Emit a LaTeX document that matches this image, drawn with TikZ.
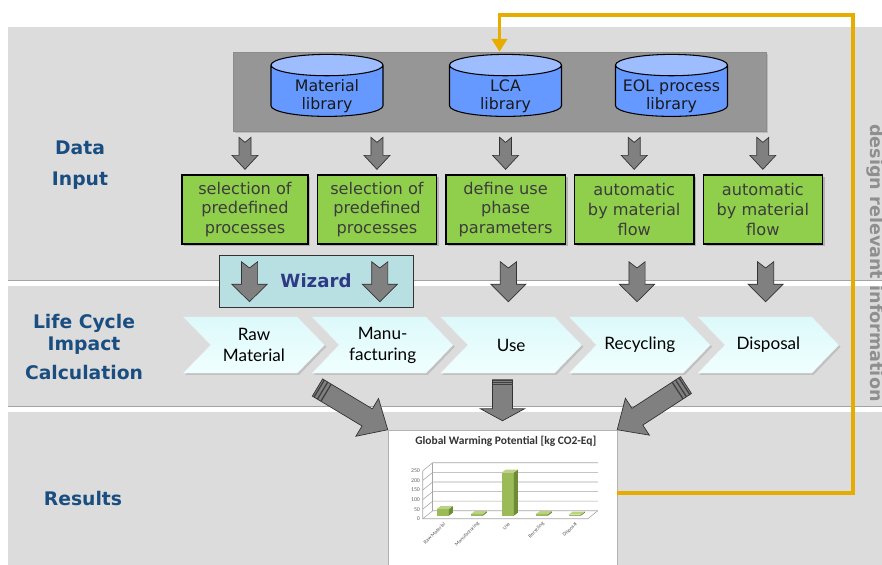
\documentclass[tikz,border=0pt]{standalone}
\usepackage{fontspec}
\setmainfont{DejaVu Sans}
\newfontfamily\chvfont{Lato}
\newfontfamily\chartfont{Carlito}
\usepackage{tikz}
\usetikzlibrary{arrows.meta}
\usetikzlibrary{positioning}
\usetikzlibrary{calc}
\usetikzlibrary{shapes.geometric}
\usetikzlibrary{shapes.symbols}
\usetikzlibrary{shadows}

\definecolor{bandgray}{HTML}{DCDCDC}
\definecolor{bandline}{HTML}{A3A3A3}
\definecolor{libsgray}{HTML}{969696}
\definecolor{libblue}{HTML}{6699FF}
\definecolor{libtop}{HTML}{9DBDFF}
\definecolor{procgreen}{HTML}{8FCF4C}
\definecolor{proctext}{HTML}{3C3C3C}
\definecolor{wizfill}{HTML}{B8DFE1}
\definecolor{wiztext}{HTML}{2E3A87}
\definecolor{lblblue}{HTML}{1A4E80}
\definecolor{fbyellow}{HTML}{E6AC00}
\definecolor{chvtop}{HTML}{DDF9FA}
\definecolor{chvbot}{HTML}{F0FFFF}
\definecolor{arrowgray}{HTML}{808080}
\definecolor{sidegray}{HTML}{8F8F8F}
\definecolor{barfront}{HTML}{9BBB59}
\definecolor{barside}{HTML}{6E8C35}
\definecolor{bartop}{HTML}{B9D383}

\tikzset{
  band/.style={fill=bandgray},
  bandln/.style={draw=bandline, line width=0.8pt},
  sec/.style={font=\fontsize{16}{19}\selectfont\bfseries, text=lblblue, align=center},
  libs/.style={fill=libsgray, draw=black!45, minimum width=15.99cm, minimum height=2.37cm,
    drop shadow={opacity=0.35, shadow xshift=1.5pt, shadow yshift=-1.5pt}},
  lib/.style={shape=cylinder, shape border rotate=90, aspect=0.22, draw=black, line width=0.9pt,
    cylinder uses custom fill, cylinder body fill=libblue, cylinder end fill=libtop,
    minimum width=3.36cm, minimum height=1.86cm, inner sep=0,
    font=\fontsize{13.5}{15.5}\selectfont},
  libtxt/.style={align=center, text=black!90, font=\fontsize{13.5}{15.5}\selectfont},
  proc/.style={draw=black, line width=1.1pt, fill=procgreen, text=proctext, align=center,
    minimum width=3.58cm, minimum height=2.07cm, inner sep=1pt,
    font=\fontsize{13.8}{16.7}\selectfont,
    drop shadow={opacity=0.45, shadow xshift=2pt, shadow yshift=-2pt}},
  wiz/.style={draw=black!80, line width=0.8pt, fill=wizfill, text=wiztext,
    minimum width=5.82cm, minimum height=1.56cm, font=\fontsize{15.5}{18}\selectfont\bfseries},
  chv/.style={shape=signal, signal from=west, signal to=east, signal pointer angle=92,
    minimum width=4.23cm, minimum height=1.68cm, inner sep=0, align=center,
    top color=chvtop, bottom color=chvbot, draw=white!85!gray, line width=0.3pt,
    font=\chvfont\fontsize{14.6}{18}\selectfont,
    drop shadow={opacity=0.3, shadow xshift=1.5pt, shadow yshift=-1.5pt}},
  chartbox/.style={draw=black!30, fill=white, minimum width=6.87cm, minimum height=4.38cm},
  fb/.style={draw=fbyellow, line width=3.2pt, line join=miter,
    -{Triangle[length=11pt, width=13pt]}},
  arrowfill/.style={fill=arrowgray, draw=black!80, line width=0.6pt, line join=miter},
  gridln/.style={draw=black!35, line width=0.5pt},
  ticklbl/.style={anchor=east, inner sep=0.5pt, text=black!60, font=\chartfont\fontsize{5}{6}\selectfont},
  catlbl/.style={anchor=east, rotate=45, inner sep=0.3pt, text=black!65, font=\chartfont\fontsize{4.5}{5}\selectfont},
  pics/dnarrow/.style={code={
    \filldraw[arrowfill] (0,0) -- (-13,-14) -- (-6,-14) -- (-6,-32) -- (0,-27)
      -- (6,-32) -- (6,-14) -- (13,-14) -- cycle;
  }},
  pics/bigarrow/.style={code={
    \filldraw[arrowfill] (0,0) -- (-22,-24) -- (-10,-24) -- (-10,-82) -- (10,-82)
      -- (10,-24) -- (22,-24) -- cycle;
    \foreach \s in {72,76,80} \draw[line width=1.1pt, black!75] (-10,-\s) -- (10,-\s);
  }},
}

\begin{document}
\begin{tikzpicture}[x=0.03cm, y=-0.03cm]
  \useasboundingbox (0,0) rectangle (882,565);

  \fill[band] (8,27) rectangle (882,280);
  \draw[bandln] (8,280) -- (882,280);
  \fill[band] (8,286) rectangle (882,406);
  \draw[bandln] (8,406) -- (882,406);
  \fill[band] (8,412) rectangle (882,570);

  \node[sec] (ldata) at (80,165) {Data\\[7pt]Input};
  \node[sec] (llci) at (84,347) {Life Cycle\\Impact\\[6pt]Calculation};
  \node[sec] (lres) at (83,499) {Results};
  \node[rotate=-90, anchor=base, text=sidegray, font=\fontsize{15}{18}\selectfont\bfseries]
    (side) at (870,263) {design relevant information};

  \node[libs] (libs) at (499.5,91.5) {};
  \node[lib] (dmat) at (327,91) {\phantom{EOL process}};
  \node[lib] (dlca) at (505.5,91) {\phantom{EOL process}};
  \node[lib] (deol) at (671.5,91) {\phantom{EOL process}};
  \node[libtxt] (tmat) at ($(dmat.center)+(0,5)$) {Material\\library};
  \node[libtxt] (tlca) at ($(dlca.center)+(0,5)$) {LCA\\library};
  \node[libtxt] (teol) at ($(deol.center)+(0,5)$) {EOL process\\library};

  \node[proc, minimum width=3.78cm] (psel1) at (245,209.5) {selection of\\predefined\\processes};
  \node[proc] (psel2) [right=0.24cm of psel1] {selection of\\predefined\\processes};
  \node[proc] (puse) [right=0.24cm of psel2] {define use\\phase\\parameters};
  \node[proc] (prec) [right=0.24cm of puse] {automatic\\by material\\flow};
  \node[proc] (pdis) [right=0.24cm of prec] {automatic\\by material\\flow};

  \node[wiz] (wiz) at (316,281) {Wizard};

  \foreach \t [count=\i] in {{Raw\\Material}, {Manu-\\facturing}, Use, Recycling, Disposal}
    \node[chv] (chv\i) at (254+128.6*\i-128.6,345) {\t};

  \node[chartbox] (chart) at (502.5,503) {};
  \begin{scope}[shift={(chart.north west)}]
    \node[font=\chartfont\bfseries\fontsize{9.8}{11}\selectfont, text=black!80] (gwp) at (118,12)
      {Global Warming Potential [kg CO2-Eq]};
    \foreach \v in {0,50,...,250} {
      \draw[gridln] (35,89-\v*0.192) -- (45,81-\v*0.192) -- (210,81-\v*0.192);
      \node[ticklbl] at (33,89-\v*0.192) {\v};
    }
    \draw[gridln] (35,41) -- (35,89) -- (200,89) -- (210,81);
    \draw[gridln] (45,33) -- (45,81);
    \foreach \x/\v in {55/35, 89/8, 120/225, 154/8, 187/6} {
      \fill[barfront] (\x-6,86) rectangle (\x+6,86-\v*0.192);
      \fill[barside] (\x+6,86) -- (\x+10,83) -- (\x+10,83-\v*0.192) -- (\x+6,86-\v*0.192) -- cycle;
      \fill[bartop] (\x-6,86-\v*0.192) -- (\x-2,83-\v*0.192) -- (\x+10,83-\v*0.192)
        -- (\x+6,86-\v*0.192) -- cycle;
    }
    \foreach \x/\c in {55/Raw Material, 89/Manufacturing, 120/Use, 154/Recycling, 187/Disposal}
      \node[catlbl] at (\x+2,93) {\c};
  \end{scope}

  \foreach \n in {psel1,psel2,puse,prec,pdis}
    \pic at ($(\n.north)+(0,-5)$) {dnarrow};
  \foreach \a/\b in {psel1/chv1, psel2/chv2, puse/chv3, prec/chv4, pdis/chv5}
    \pic[xscale=1.35, yscale=1.25] at ($($(\a.south)!0.5!(\b.north)$)+(0,21)$) {dnarrow};

  \pic[rotate=59] at (chart.north west) {bigarrow};
  \pic[yscale=0.5] at ($(chart.north)+(0,-9)$) {bigarrow};
  \pic[rotate=-57] at (chart.north east) {bigarrow};

  \draw[fb] ($(chart.east)+(0,-10)$) -| (853,15) -| (libs.north);
\end{tikzpicture}
\end{document}
